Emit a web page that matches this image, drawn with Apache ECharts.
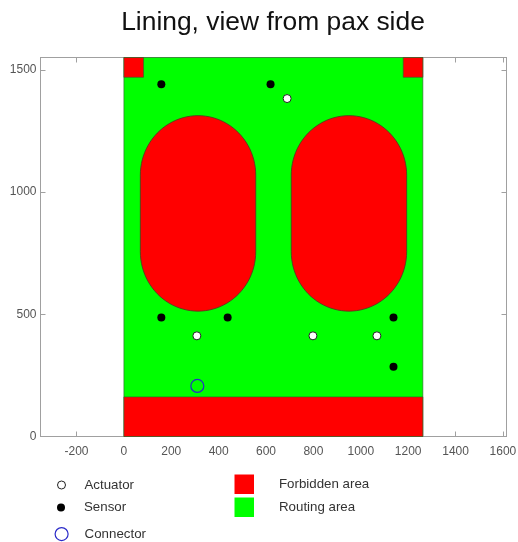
<!DOCTYPE html>
<html><head><meta charset="utf-8">
<style>html,body{margin:0;padding:0;background:#fff}#c{width:518px;height:542px}</style>
<script src="https://cdn.jsdelivr.net/npm/echarts@6/dist/echarts.min.js"></script>
</head><body><div id="c"></div>
<script>
const xTicks = [-200,0,200,400,600,800,1000,1200,1400,1600];
const yTicks = [0,500,1000,1500];
// [xStart, yStart, xEnd, yEnd]
const routingRects = [[0,0,1262,1551]];
const forbiddenRects = [[0,0,1262,162],[0,1470,83,1551],[1179,1470,1262,1551]];
// [xCentre, yBottom, yTop, radius]
const forbiddenCapsules = [[313,513,1313,243.5],[950,513,1313,243.5]];
const actuators = [[689,1383],[308,412],[798,412],[1068,412]];
const sensors = [[158,1442],[619,1442],[158,487],[438,487],[1138,487],[1138,285]];
const connectors = [[310,207]];
const RED='#ff0000', GREEN='#00ff00', FONT='"Liberation Sans", Arial, sans-serif';

function rectItem(params, api){
  const a = api.coord([api.value(0), api.value(1)]);
  const b = api.coord([api.value(2), api.value(3)]);
  return {type:'rect', shape:{x:Math.min(a[0],b[0]), y:Math.min(a[1],b[1]), width:Math.abs(b[0]-a[0]), height:Math.abs(b[1]-a[1])},
    style:{fill:api.visual('color'), stroke:'#2f5f2f', lineWidth:0.6}};
}
function capsuleItem(params, api){
  const cx=api.value(0), y0=api.value(1), y1=api.value(2), r=api.value(3), pts=[];
  for(let i=0;i<=48;i++){const t=Math.PI*i/48; pts.push(api.coord([cx+r*Math.cos(t), y1-r+r*Math.sin(t)]));}
  for(let i=0;i<=48;i++){const t=Math.PI+Math.PI*i/48; pts.push(api.coord([cx+r*Math.cos(t), y0+r+r*Math.sin(t)]));}
  return {type:'polygon', shape:{points:pts}, style:{fill:RED, stroke:'#5a3a20', lineWidth:0.9}};
}
const plain=v=>String(v);
const lineStyle={color:'#a0a0a0',width:1};
const tickStyle={color:'#a0a0a0',width:1};
const labelStyle={color:'#555555',fontFamily:FONT,fontSize:12,formatter:plain};
const legendBase={orient:'vertical',padding:0,selectedMode:false,itemGap:0};
function legendItem(name,icon,left,top,w,h,pad,itemStyle){
  return Object.assign({},legendBase,{data:[{name,icon,itemStyle}],left,top,itemWidth:w,itemHeight:h,
    textStyle:{color:'#333333',fontFamily:FONT,fontSize:13.3,padding:[0,0,0,pad]}});
}
const chart=echarts.init(document.getElementById('c'),null,{renderer:'canvas'});
chart.setOption({
  animation:false,
  backgroundColor:'#ffffff',
  title:{text:'Lining, view from pax side',left:268,top:5,textAlign:'center',
    textStyle:{fontFamily:FONT,fontSize:26.4,fontWeight:'normal',color:'#111111'}},
  grid:{left:40.5,right:11.5,top:57.5,bottom:105.5,outerBoundsMode:'none',show:true,borderColor:'#a0a0a0',borderWidth:1,backgroundColor:'#ffffff'},
  xAxis:[
    {type:'value',min:-352,max:1615,position:'bottom',splitLine:{show:false},axisLine:{lineStyle,onZero:false},
     axisTick:{inside:true,length:5,lineStyle:tickStyle,customValues:xTicks},
     axisLabel:Object.assign({customValues:xTicks,margin:9},labelStyle)},
    {type:'value',min:-352,max:1615,position:'top',splitLine:{show:false},axisLine:{lineStyle,onZero:false},
     axisTick:{inside:true,length:5,lineStyle:tickStyle,customValues:xTicks},axisLabel:{show:false}}
  ],
  yAxis:[
    {type:'value',min:0,max:1551,position:'left',splitLine:{show:false},axisLine:{show:true,lineStyle,onZero:false},
     axisTick:{show:true,inside:true,length:5,lineStyle:tickStyle,customValues:yTicks},
     axisLabel:Object.assign({customValues:yTicks,margin:4},labelStyle)},
    {type:'value',min:0,max:1551,position:'right',splitLine:{show:false},axisLine:{show:true,lineStyle,onZero:false},
     axisTick:{show:true,inside:true,length:5,lineStyle:tickStyle,customValues:yTicks},axisLabel:{show:false}}
  ],
  legend:[
    legendItem('Actuator','circle',57,478.5,8,13,14,{color:'#ffffff',borderColor:'#222222',borderWidth:1}),
    legendItem('Sensor','circle',57,501,8,13,14,{color:'#000000',borderWidth:0}),
    legendItem('Connector','circle',54.5,527,13,13,11.5,{color:'rgba(0,0,0,0)',borderColor:'#2a2ac8',borderWidth:1.2}),
    legendItem('Forbidden area','rect',234.5,474.5,19.5,19.5,20,{color:RED,borderWidth:0}),
    legendItem('Routing area','rect',234.5,497.5,19.5,19.5,20,{color:GREEN,borderWidth:0})
  ],
  series:[
    {name:'Routing area',type:'custom',renderItem:rectItem,data:routingRects,itemStyle:{color:GREEN},z:1,
     encode:{x:[0,2],y:[1,3]}},
    {name:'Forbidden area',type:'custom',renderItem:rectItem,data:forbiddenRects,itemStyle:{color:RED},z:2,
     encode:{x:[0,2],y:[1,3]}},
    {name:'Forbidden area',type:'custom',renderItem:capsuleItem,data:forbiddenCapsules,itemStyle:{color:RED},z:2,
     encode:{x:[0],y:[1,2]}},
    {name:'Actuator',type:'scatter',data:actuators,symbol:'circle',symbolSize:8,z:3,
     itemStyle:{color:'#ffffff',borderColor:'#222222',borderWidth:1,opacity:1}},
    {name:'Sensor',type:'scatter',data:sensors,symbol:'circle',symbolSize:8,z:3,
     itemStyle:{color:'#000000',borderColor:'#000000',borderWidth:0,opacity:1}},
    {name:'Connector',type:'scatter',data:connectors,symbol:'circle',symbolSize:13,z:3,
     itemStyle:{color:'rgba(0,0,0,0)',borderColor:'#2a2ac8',borderWidth:1.2,opacity:1}}
  ]
});
</script></body></html>
